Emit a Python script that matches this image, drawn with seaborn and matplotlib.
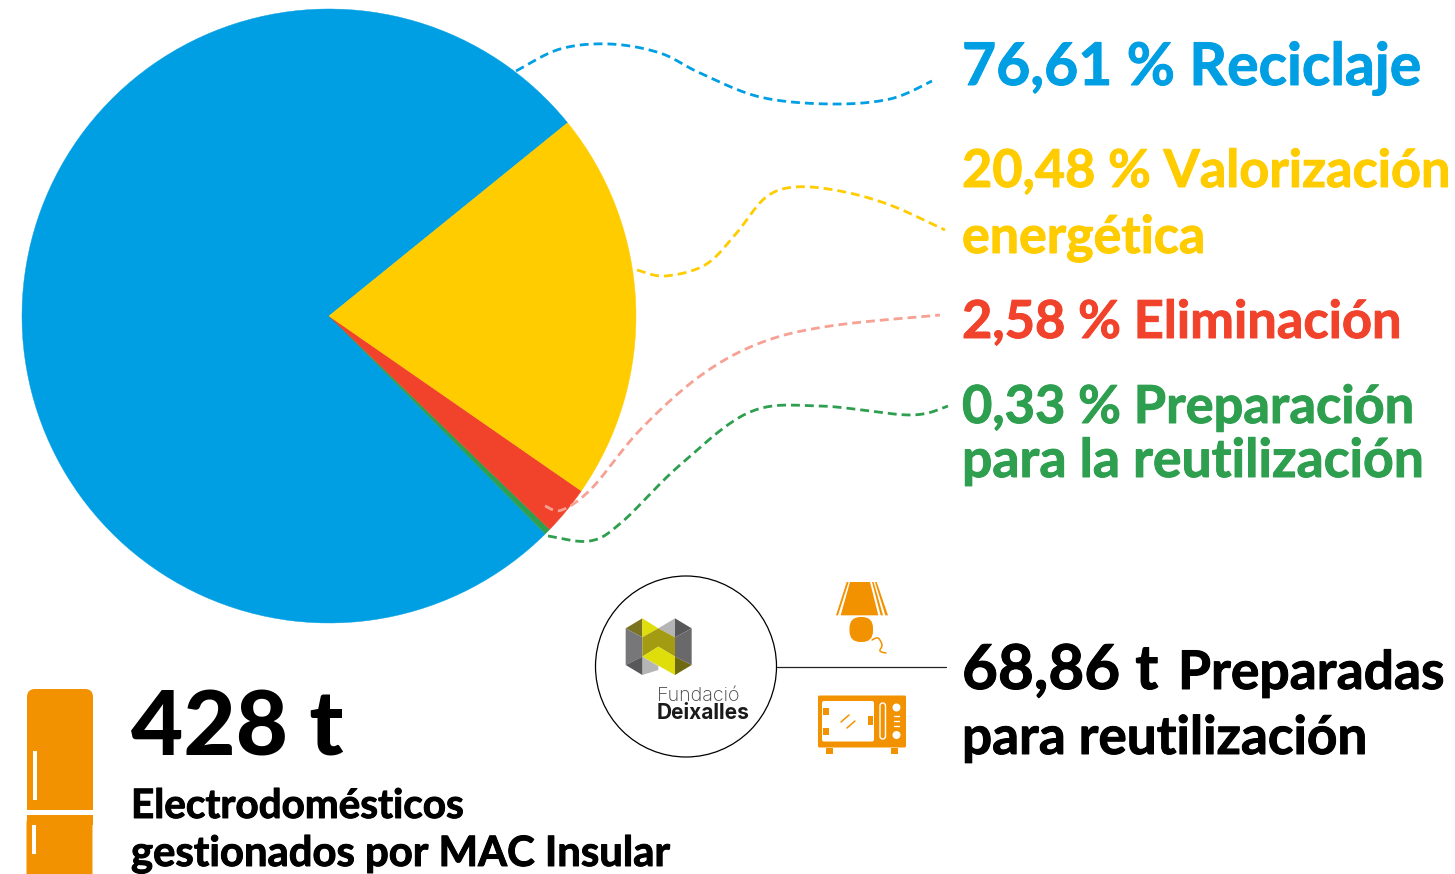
# plot.py
# Waste treatment pie for electrical appliances, with the leader lines and icons around it.

import numpy as np
import pandas as pd
import seaborn as sns
import matplotlib.pyplot as plt
import matplotlib.patheffects as pe
from matplotlib.patches import Circle, FancyBboxPatch, Polygon, Rectangle

# --- Data ---
LABELS = ["Reciclaje", "Preparación", "Eliminación", "Valorización"]
SHARES = [76.61, 0.33, 2.58, 20.48]
COLORS = ["#009FE3", "#2E9E4F", "#F1432C", "#FFCC00"]

TOTAL_TONS = "428 t"
REUSED_TONS = "68,86 t"

W, H = 1455, 874
ORANGE = "#F39200"

# leader lines, waypoints in pixels
LEADERS = {
    "blue": ([516, 560, 610, 660, 700, 760, 830, 890, 932],
             [71, 49, 44, 53, 73, 97, 104, 99, 81], "#009FE3"),
    "yellow": ([637, 665, 705, 735, 765, 795, 840, 890, 945],
               [270, 276, 265, 235, 198, 187, 191, 205, 230], "#FFCC00"),
    "red": ([545, 562, 592, 640, 700, 760, 830, 940],
            [506, 510, 488, 430, 376, 343, 326, 315], "#F7A094"),
    "green": ([548, 590, 622, 680, 750, 820, 910, 948],
              [536, 541, 522, 465, 412, 406, 415, 406], "#2E9E4F"),
}

sns.set_theme(style="white")
plt.rcParams["font.family"] = ["Lato", "DejaVu Sans"]

fig = plt.figure(figsize=(W / 100, H / 100), dpi=100)

# 1. Pie
pie_ax = fig.add_axes([22 / W, (H - 623) / H, 614 / W, 614 / H])
wedges, _ = pie_ax.pie(SHARES, colors=COLORS, startangle=39.0, radius=1.0)
for wedge, color in zip(wedges, COLORS):
    wedge.set_edgecolor(color)
    wedge.set_linewidth(0.3)
pie_ax.set_xlim(-1, 1)
pie_ax.set_ylim(-1, 1)

# 2. Overlay in pixel coordinates
ax = fig.add_axes([0, 0, 1, 1])
ax.patch.set_alpha(0)


def smooth(xs, ys, n=24):
    # catmull-rom through the waypoints
    p = np.column_stack([xs, ys]).astype(float)
    p = np.vstack([p[0], p, p[-1]])
    out = []
    for i in range(1, len(p) - 2):
        t = np.linspace(0, 1, n, endpoint=False)[:, None]
        out.append(0.5 * (2 * p[i] + (p[i + 1] - p[i - 1]) * t
                          + (2 * p[i - 1] - 5 * p[i] + 4 * p[i + 1] - p[i + 2]) * t ** 2
                          + (3 * p[i] - p[i - 1] - 3 * p[i + 1] + p[i + 2]) * t ** 3))
    out.append(p[-2][None, :])
    return np.vstack(out)


for name, (xs, ys, color) in LEADERS.items():
    pts = smooth(xs, ys)
    frame = pd.DataFrame({"x": pts[:, 0], "y": pts[:, 1]})
    sns.lineplot(data=frame, x="x", y="y", sort=False, estimator=None, ax=ax,
                 color=color, linewidth=2.0, dashes=(3.2, 1.8))
ax.set_xlim(0, W)
ax.set_ylim(H, 0)
ax.axis("off")


# 3. Texts
def label(x, y, s, size, color="black", weight="bold", stroke=0.7):
    t = ax.text(x, y, s, fontsize=size, color=color, fontweight=weight,
                ha="left", va="baseline")
    if stroke:
        t.set_path_effects([pe.withStroke(linewidth=stroke, foreground=color)])


label(962, 85, "76,61 % Reciclaje", 42.4, "#009FE3")
label(962, 187, "20,48 % Valorización", 37.6, "#FFCC00")
label(962, 253, "energética", 37.4, "#FFCC00")
label(962, 338, "2,58 % Eliminación", 37.7, "#F1432C")
label(962, 423, "0,33 % Preparación", 37.7, "#2E9E4F")
label(962, 477, "para la reutilización", 38.5, "#2E9E4F")
label(962, 689, REUSED_TONS, 44.6, "black")
label(1178, 689, "Preparadas", 38.4, "black")
label(962, 754, "para reutilización", 38.2, "black")
label(131, 756, TOTAL_TONS, 65, "black", "black", 0)
label(131, 818, "Electrodomésticos", 29.1, "black")
label(131, 866, "gestionados por MAC Insular", 30.1, "black")

# 4. Fundació Deixalles circle and logo
ax.add_patch(Circle((686, 666.5), 90.5, fc="none", ec="black", lw=0.9))
ax.plot([777, 946], [666.5, 666.5], color="#222222", lw=0.9)


def z(pts):
    return [(580 + a / 3, 560 + b / 3) for a, b in pts]


LOGO = [
    ([(137, 205), (187, 175), (187, 232)], "#7A7420"),
    ([(187, 175), (235, 205), (187, 232)], "#E0DE0A"),
    ([(235, 205), (285, 175), (285, 232)], "#B5B5B5"),
    ([(285, 175), (335, 205), (285, 232)], "#58585A"),
    ([(137, 205), (187, 232), (187, 290), (137, 315)], "#77777A"),
    ([(285, 232), (335, 205), (335, 315), (285, 290)], "#69696C"),
    ([(187, 232), (235, 205), (285, 232), (285, 290), (235, 260), (187, 290)], "#A39C12"),
    ([(187, 290), (235, 260), (285, 290), (285, 345)], "#E0DE0A"),
    ([(187, 290), (235, 318), (235, 330), (187, 345)], "#B5B5B5"),
    ([(137, 315), (187, 290), (187, 345)], "#58585A"),
    ([(285, 290), (335, 315), (285, 345)], "#6E6A12"),
]
for pts, color in LOGO:
    ax.add_patch(Polygon(z(pts), closed=True, fc=color, ec="none"))
ax.text(657, 701, "Fundació", fontsize=14.2, color="#444444", family="Inter", fontweight="light")
ax.text(657, 719, "Deixalles", fontsize=15, color="#1A1A1A", family="Inter", fontweight="bold")

# 5. Lamp
ax.add_patch(Polygon(z([(810, 66), (870, 66), (895, 166), (782, 166)]), fc=ORANGE, ec="none"))
ax.add_patch(Polygon(z([(800, 66), (806, 66), (774, 166), (768, 166)]), fc=ORANGE, ec="none"))
ax.add_patch(Polygon(z([(876, 66), (881, 66), (909, 166), (902, 166)]), fc=ORANGE, ec="none"))
ax.add_patch(Polygon(z([(885, 66), (890, 66), (924, 166), (916, 166)]), fc=ORANGE, ec="none"))
ax.add_patch(FancyBboxPatch((849.5, 617), 23.5, 25, boxstyle="round,pad=0,rounding_size=11",
                            fc=ORANGE, ec="none"))
cord = smooth([872, 878, 882, 880, 886], [640, 638, 645, 651, 653], n=10)
ax.plot(cord[:, 0], cord[:, 1], color=ORANGE, lw=1.1)

# 6. Microwave
ax.add_patch(FancyBboxPatch((818, 695.5), 88, 52, boxstyle="round,pad=0,rounding_size=1.5",
                            fc=ORANGE, ec="none"))
ax.add_patch(FancyBboxPatch((822, 701), 52, 40.5, boxstyle="round,pad=0,rounding_size=2",
                            fc="white", ec="none"))
ax.add_patch(Rectangle((823, 708), 6, 6.5, fc=ORANGE, ec="none"))
ax.add_patch(Rectangle((823, 728), 6, 6.5, fc=ORANGE, ec="none"))
ax.add_patch(Rectangle((867.5, 716), 5, 9, fc=ORANGE, ec="none"))
ax.plot([841, 849], [722, 715], color=ORANGE, lw=1.1)
ax.plot([847, 855], [728, 721], color=ORANGE, lw=1.1)
ax.add_patch(FancyBboxPatch((880, 703), 5.5, 36, boxstyle="round,pad=0,rounding_size=2.7",
                            fc=ORANGE, ec="white", lw=1.0))
ax.add_patch(Circle((896.5, 707.5), 4, fc="white", ec="none"))
ax.add_patch(Circle((896.5, 735), 4, fc="white", ec="none"))
for yy in (716, 721, 726):
    ax.plot([894, 899], [yy, yy], color="white", lw=1.0)
ax.add_patch(Rectangle((826, 748), 7, 5.5, fc=ORANGE, ec="none"))
ax.add_patch(Rectangle((890.5, 748), 7, 5.5, fc=ORANGE, ec="none"))

# 7. Fridge
ax.add_patch(FancyBboxPatch((27, 689), 66, 121, boxstyle="round,pad=0,rounding_size=8",
                            fc=ORANGE, ec="none"))
ax.add_patch(Rectangle((27, 800), 66, 10, fc=ORANGE, ec="none"))
ax.add_patch(FancyBboxPatch((26.5, 815), 66, 75, boxstyle="round,pad=0,rounding_size=8",
                            fc=ORANGE, ec="none"))
ax.add_patch(Rectangle((26.5, 815), 66, 10, fc=ORANGE, ec="none"))
ax.add_patch(Rectangle((33, 751), 3.5, 49, fc="white", ec="none"))
ax.add_patch(Rectangle((32, 825), 4, 29, fc="white", ec="none"))

fig.savefig("out.png", dpi=100, facecolor="white")
